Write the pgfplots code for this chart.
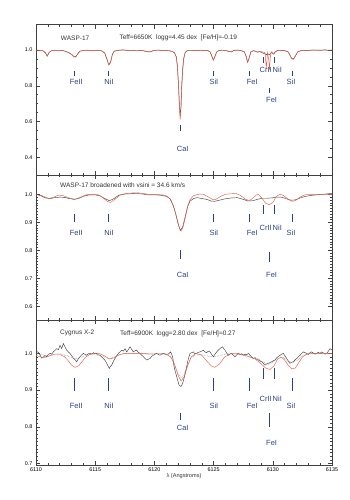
\documentclass[border=0pt]{standalone}
\usepackage{fontspec}
\setmainfont{Liberation Sans}
\usepackage{pgfplots}
\pgfplotsset{compat=1.18}

\definecolor{obs}{RGB}{65,65,65}
\definecolor{mod}{RGB}{228,95,75}
\definecolor{labcol}{RGB}{45,65,135}
\definecolor{dotc}{RGB}{120,125,145}

\pgfplotsset{
  spec/.style={
    scale only axis, width=296pt,
    xmin=6110, xmax=6135,
    xtick={6110,6115,6120,6125,6130,6135},
    minor x tick num=4,
    tick align=inside,
    major tick length=4pt, minor tick length=2pt,
    axis line style={line width=0.5pt, black!75},
    every tick/.style={line width=0.4pt, black!75},
    ticklabel style={font=\fontsize{5.4}{6}\selectfont},
    /pgf/number format/assume math mode=true,
    yticklabel style={/pgf/number format/fixed, /pgf/number format/fixed zerofill, /pgf/number format/precision=1},
    every axis plot/.append style={line width=0.45pt},
  },
}
\tikzset{
  lab/.style={text=labcol, font=\fontsize{7.5}{8}\selectfont, inner sep=0pt},
  ttl/.style={anchor=west, font=\fontsize{6.5}{7}\selectfont, inner sep=0pt, text=black!80},
  mk/.style={labcol, line width=0.45pt},
}

\begin{document}
\begin{tikzpicture}

% ---------------- panel 1: WASP-17
\begin{axis}[spec, name=ax1, height=150.3pt, ymin=0.30, ymax=1.142,
  ytick={0.4,0.6,0.8,1.0}, minor y tick num=3, xticklabels={}]
\coordinate (tl) at (rel axis cs:0,1);
\addplot[obs] coordinates {
(6110.0,1.000) (6110.3,0.997) (6110.6,0.996) (6110.8,0.984) (6110.95,0.967) (6111.1,0.986) (6111.3,0.996) (6111.6,1.000)
(6111.9,0.995) (6112.2,0.999) (6112.5,0.992) (6112.8,0.984) (6113.0,0.976) (6113.2,0.964) (6113.35,0.962) (6113.5,0.977)
(6113.7,0.994) (6114.0,0.997) (6114.3,1.000) (6114.6,0.995) (6114.9,0.999) (6115.2,0.998) (6115.5,0.996) (6115.8,0.984)
(6116.0,0.948) (6116.15,0.918) (6116.3,0.933) (6116.45,0.976) (6116.6,0.994) (6116.9,0.998) (6117.3,1.001) (6117.7,0.998)
(6118.1,0.999) (6118.5,0.995) (6118.9,0.999) (6119.3,0.992) (6119.6,0.989) (6119.9,0.997) (6120.3,1.000) (6120.7,0.997)
(6121.0,0.998) (6121.3,0.995) (6121.5,0.992) (6121.7,0.984) (6121.85,0.962) (6121.95,0.905) (6122.05,0.79) (6122.12,0.68)
(6122.18,0.640) (6122.24,0.675) (6122.3,0.79) (6122.38,0.890) (6122.48,0.955) (6122.6,0.986) (6122.75,0.996) (6123.0,0.998)
(6123.3,0.997) (6123.6,0.997) (6123.9,1.000) (6124.2,0.996) (6124.5,0.998) (6124.7,0.989) (6124.85,0.966) (6124.98,0.944)
(6125.1,0.962) (6125.25,0.988) (6125.4,0.996) (6125.7,1.000) (6126.0,0.997) (6126.3,0.992) (6126.5,0.989) (6126.7,0.998)
(6127.0,1.000) (6127.3,0.997) (6127.6,0.989) (6127.75,0.964) (6127.87,0.931) (6128.0,0.956) (6128.15,0.990) (6128.4,0.997)
(6128.7,0.988) (6128.9,0.991) (6129.1,0.985) (6129.35,0.978) (6129.45,0.974) (6129.55,0.980) (6129.65,0.976) (6129.72,0.973)
(6129.8,0.981) (6129.9,0.989) (6130.0,0.979) (6130.08,0.977) (6130.2,0.989) (6130.4,0.998) (6130.7,0.997) (6131.0,0.997)
(6131.3,0.989) (6131.45,0.971) (6131.6,0.952) (6131.75,0.950) (6131.9,0.966) (6132.1,0.989) (6132.4,0.998) (6132.7,0.998)
(6133.0,0.998) (6133.3,1.000) (6133.6,0.999) (6134.0,0.999) (6134.4,1.001) (6134.7,0.998) (6135.0,1.000)
};
\addplot[mod] coordinates {
(6110.0,1.000) (6110.3,0.998) (6110.6,0.995) (6110.8,0.985) (6110.95,0.965) (6111.1,0.985) (6111.3,0.997) (6111.6,0.999)
(6111.9,0.996) (6112.2,0.998) (6112.5,0.993) (6112.8,0.985) (6113.0,0.975) (6113.2,0.962) (6113.35,0.960) (6113.5,0.975)
(6113.7,0.993) (6114.0,0.998) (6114.3,0.999) (6114.6,0.996) (6114.9,0.998) (6115.2,0.999) (6115.5,0.997) (6115.8,0.985)
(6116.0,0.945) (6116.15,0.915) (6116.3,0.930) (6116.45,0.975) (6116.6,0.993) (6116.9,0.997) (6117.3,1.000) (6117.7,0.999)
(6118.1,0.998) (6118.5,0.996) (6118.9,0.998) (6119.3,0.993) (6119.6,0.990) (6119.9,0.996) (6120.3,0.999) (6120.7,0.998)
(6121.0,0.997) (6121.3,0.996) (6121.5,0.993) (6121.7,0.985) (6121.85,0.960) (6121.95,0.900) (6122.05,0.78) (6122.12,0.66)
(6122.18,0.610) (6122.24,0.66) (6122.3,0.78) (6122.38,0.88) (6122.48,0.95) (6122.6,0.985) (6122.75,0.995) (6123.0,0.997)
(6123.3,0.998) (6123.6,0.996) (6123.9,0.999) (6124.2,0.997) (6124.5,0.998) (6124.7,0.990) (6124.85,0.965) (6124.98,0.942)
(6125.1,0.960) (6125.25,0.988) (6125.4,0.995) (6125.7,0.999) (6126.0,0.998) (6126.3,0.993) (6126.5,0.990) (6126.7,0.997)
(6127.0,0.999) (6127.3,0.998) (6127.6,0.990) (6127.75,0.965) (6127.87,0.930) (6128.0,0.955) (6128.15,0.990) (6128.4,0.996)
(6128.7,0.990) (6128.9,0.992) (6129.1,0.990) (6129.35,0.985) (6129.45,0.895) (6129.55,0.985) (6129.65,0.950) (6129.72,0.890)
(6129.8,0.970) (6129.9,0.990) (6130.0,0.980) (6130.08,0.978) (6130.2,0.990) (6130.4,0.997) (6130.7,0.998) (6131.0,0.996)
(6131.3,0.990) (6131.45,0.970) (6131.6,0.950) (6131.75,0.948) (6131.9,0.965) (6132.1,0.990) (6132.4,0.997) (6132.7,0.999)
(6133.0,0.997) (6133.3,0.999) (6133.6,1.000) (6134.0,0.998) (6134.4,1.000) (6134.7,0.999) (6135.0,1.000)
};
\node[ttl] at (axis cs:6112.09,1.066) {WASP-17};
\node[ttl] at (axis cs:6117.04,1.066) {Teff=6650K\ \ logg=4.45 dex\ \ [Fe/H]=-0.19};
% line identifications
\draw[mk] (axis cs:6113.2,0.884) -- (axis cs:6113.2,0.854);
\draw[mk] (axis cs:6116.1,0.884) -- (axis cs:6116.1,0.854);
\draw[mk] (axis cs:6122.2,0.580) -- (axis cs:6122.2,0.548);
\draw[mk] (axis cs:6125.0,0.884) -- (axis cs:6125.0,0.854);
\draw[mk] (axis cs:6128.0,0.884) -- (axis cs:6128.0,0.854);
\draw[mk] (axis cs:6129.2,0.959) -- (axis cs:6129.2,0.925);
\draw[mk] (axis cs:6129.7,0.790) -- (axis cs:6129.7,0.760);
\draw[mk] (axis cs:6130.1,0.959) -- (axis cs:6130.1,0.925);
\draw[mk] (axis cs:6131.6,0.884) -- (axis cs:6131.6,0.854);
\node[lab] at (axis cs:6113.4,0.821) {FeII};
\node[lab] at (axis cs:6116.17,0.821) {NiI};
\node[lab] at (axis cs:6122.39,0.445) {CaI};
\node[lab] at (axis cs:6125.03,0.821) {SiI};
\node[lab] at (axis cs:6128.27,0.821) {FeI};
\node[lab] at (axis cs:6129.40,0.888) {CrII};
\node[lab] at (axis cs:6130.38,0.888) {NiI};
\node[lab] at (axis cs:6129.9,0.720) {FeI};
\node[lab] at (axis cs:6131.54,0.821) {SiI};
\end{axis}

% ---------------- panel 2: broadened
\begin{axis}[spec, name=ax2, at={(ax1.south west)}, anchor=north west,
  height=145pt, ymin=0.551, ymax=1.069,
  ytick={0.6,0.7,0.8,0.9,1.0}, minor y tick num=9, xticklabels={}]
\addplot[obs] coordinates {
(6110.0,1.000) (6110.4,0.995) (6110.8,0.987) (6111.2,0.985) (6111.6,0.988) (6112.0,0.990) (6112.4,0.989) (6112.8,0.985)
(6113.2,0.982) (6113.6,0.985) (6114.0,0.993) (6114.5,0.998) (6115.0,0.998) (6115.4,0.995) (6115.8,0.985) (6116.2,0.977)
(6116.6,0.985) (6117.0,0.997) (6117.5,1.001) (6118.0,1.002) (6118.5,1.003) (6119.0,1.001) (6119.5,0.998) (6120.0,0.998)
(6120.5,0.997) (6121.0,0.993) (6121.3,0.985) (6121.6,0.960) (6121.8,0.930) (6122.0,0.895) (6122.2,0.871) (6122.4,0.885)
(6122.6,0.920) (6122.8,0.955) (6123.0,0.975) (6123.3,0.985) (6123.6,0.988) (6124.0,0.985) (6124.4,0.982) (6124.8,0.976)
(6125.1,0.975) (6125.5,0.979) (6126.0,0.984) (6126.5,0.987) (6127.0,0.988) (6127.5,0.982) (6127.9,0.976) (6128.3,0.977)
(6128.7,0.982) (6129.1,0.986) (6129.5,0.986) (6129.9,0.987) (6130.3,0.990) (6130.7,0.990) (6131.1,0.985) (6131.5,0.979)
(6131.9,0.980) (6132.3,0.987) (6132.7,0.992) (6133.2,0.996) (6133.7,0.998) (6134.2,1.000) (6134.7,1.002) (6135.0,1.003)
};
\addplot[mod] coordinates {
(6110.0,0.998) (6110.4,0.997) (6110.8,0.990) (6111.1,0.985) (6111.5,0.990) (6111.9,0.997) (6112.3,0.995) (6112.8,0.987)
(6113.3,0.982) (6113.8,0.990) (6114.2,0.998) (6114.7,1.000) (6115.2,0.999) (6115.6,0.990) (6116.0,0.975) (6116.3,0.971)
(6116.7,0.983) (6117.1,0.997) (6117.6,1.003) (6118.2,1.005) (6118.7,1.005) (6119.2,1.002) (6119.7,0.999) (6120.2,0.999)
(6120.7,0.998) (6121.1,0.993) (6121.4,0.980) (6121.7,0.945) (6121.9,0.915) (6122.1,0.880) (6122.25,0.869) (6122.4,0.880)
(6122.6,0.915) (6122.8,0.955) (6123.0,0.980) (6123.3,0.995) (6123.7,1.000) (6124.1,1.001) (6124.5,0.992) (6124.9,0.982)
(6125.2,0.982) (6125.6,0.993) (6126.0,1.000) (6126.5,1.002) (6126.9,1.003) (6127.3,0.995) (6127.7,0.982) (6128.0,0.978)
(6128.3,0.985) (6128.6,0.998) (6128.8,0.999) (6129.1,0.985) (6129.4,0.968) (6129.7,0.963) (6130.0,0.970) (6130.3,0.993)
(6130.6,1.000) (6130.9,0.996) (6131.3,0.982) (6131.6,0.975) (6131.9,0.977) (6132.3,0.990) (6132.7,0.998) (6133.2,1.000)
(6134.0,1.000) (6135.0,1.000)
};
\node[ttl] at (axis cs:6112.03,1.033) {WASP-17 broadened with vsini = 34.6 km/s};
\node[rotate=90, font=\fontsize{5.4}{6}\selectfont, text=black!80] at ([xshift=-18pt]rel axis cs:0,0.402) {Normalized Flux};
\draw[mk] (axis cs:6113.2,0.930) -- (axis cs:6113.2,0.901);
\draw[mk] (axis cs:6116.1,0.930) -- (axis cs:6116.1,0.901);
\draw[mk] (axis cs:6122.2,0.800) -- (axis cs:6122.2,0.770);
\draw[mk] (axis cs:6125.0,0.930) -- (axis cs:6125.0,0.901);
\draw[mk] (axis cs:6128.0,0.930) -- (axis cs:6128.0,0.901);
\draw[mk] (axis cs:6129.2,0.962) -- (axis cs:6129.2,0.930);
\draw[mk] (axis cs:6129.7,0.794) -- (axis cs:6129.7,0.758);
\draw[mk] (axis cs:6130.1,0.962) -- (axis cs:6130.1,0.930);
\draw[mk] (axis cs:6131.6,0.930) -- (axis cs:6131.6,0.901);
\node[lab] at (axis cs:6113.4,0.861) {FeII};
\node[lab] at (axis cs:6116.17,0.861) {NiI};
\node[lab] at (axis cs:6122.39,0.712) {CaI};
\node[lab] at (axis cs:6125.03,0.861) {SiI};
\node[lab] at (axis cs:6128.27,0.861) {FeI};
\node[lab] at (axis cs:6129.40,0.879) {CrII};
\node[lab] at (axis cs:6130.38,0.879) {NiI};
\node[lab] at (axis cs:6129.9,0.712) {FeI};
\node[lab] at (axis cs:6131.54,0.861) {SiI};
\end{axis}

% ---------------- panel 3: Cygnus X-2
\begin{axis}[spec, name=ax3, at={(ax2.south west)}, anchor=north west,
  height=145.3pt, ymin=0.695, ymax=1.091,
  ytick={0.7,0.8,0.9,1.0}, minor y tick num=9,
  xticklabels={6110,6115,6120,6125,6130,6135},
  xlabel={λ (Angstroms)},
  xlabel style={font=\fontsize{5.6}{6}\selectfont, text=black!80, yshift=5pt},
  xticklabel style={yshift=1pt}]
\addplot[dotc, densely dotted, line width=0.5pt] coordinates {
(6110.0,1.000) (6110.5,0.997) (6110.9,0.993) (6111.4,0.997) (6112.0,0.999) (6112.6,0.994) (6113.3,0.985) (6113.8,0.989)
(6114.3,0.996) (6114.9,0.998) (6115.5,0.993) (6116.2,0.985) (6116.8,0.993) (6117.4,0.999) (6118.2,1.000) (6119.0,0.999)
(6119.7,0.997) (6120.4,0.999) (6121.0,0.997) (6121.4,0.988) (6121.7,0.970) (6122.0,0.945) (6122.25,0.932) (6122.5,0.942)
(6122.8,0.968) (6123.1,0.988) (6123.5,0.996) (6124.0,0.997) (6124.6,0.992) (6125.0,0.990) (6125.5,0.994) (6126.1,0.999)
(6126.8,0.999) (6127.5,0.995) (6128.0,0.990) (6128.6,0.988) (6129.1,0.978) (6129.6,0.970) (6130.0,0.975) (6130.5,0.990)
(6130.9,0.989) (6131.3,0.979) (6131.7,0.975) (6132.1,0.982) (6132.6,0.995) (6133.2,1.000) (6134.0,1.000) (6135.0,1.000)
};
\addplot[obs] coordinates {
(6110.06,1.005) (6110.20,1.003) (6110.34,0.996) (6110.48,0.987) (6110.62,0.990) (6110.76,0.994) (6110.90,0.991) (6111.04,0.997)
(6111.18,1.000) (6111.32,0.998) (6111.46,1.004) (6111.60,1.008) (6111.75,1.013) (6111.89,1.010) (6112.03,1.022) (6112.17,1.013)
(6112.31,1.027) (6112.45,1.018) (6112.59,1.009) (6112.73,1.004) (6112.87,1.000) (6113.01,0.994) (6113.15,0.987) (6113.29,0.983)
(6113.43,0.977) (6113.57,0.985) (6113.72,0.991) (6113.86,0.996) (6114.00,1.000) (6114.14,0.997) (6114.28,0.995) (6114.42,0.999)
(6114.56,1.000) (6114.70,0.998) (6114.84,1.002) (6114.98,0.999) (6115.12,1.000) (6115.26,0.996) (6115.41,0.995) (6115.55,0.990)
(6115.69,0.986) (6115.83,0.981) (6115.97,0.973) (6116.08,0.966) (6116.19,0.959) (6116.29,0.965) (6116.39,0.968) (6116.53,0.978)
(6116.67,0.986) (6116.81,0.993) (6116.95,1.000) (6117.09,1.004) (6117.24,1.009) (6117.38,1.006) (6117.52,1.013) (6117.66,1.004)
(6117.80,1.010) (6117.94,1.018) (6118.08,1.011) (6118.22,1.004) (6118.36,1.007) (6118.50,1.009) (6118.64,1.003) (6118.78,1.000)
(6118.93,0.995) (6119.07,0.991) (6119.21,0.986) (6119.35,0.982) (6119.49,0.984) (6119.63,0.986) (6119.77,0.992) (6119.91,0.995)
(6120.05,0.998) (6120.19,1.000) (6120.33,0.997) (6120.47,0.995) (6120.61,0.998) (6120.75,1.000) (6120.96,0.998) (6121.18,0.998)
(6121.37,1.004) (6121.54,0.991) (6121.66,0.964) (6121.77,0.950) (6121.88,0.937) (6121.98,0.925) (6122.08,0.914) (6122.22,0.910)
(6122.30,0.912) (6122.39,0.919) (6122.50,0.932) (6122.61,0.946) (6122.71,0.962) (6122.81,0.977) (6122.91,0.990) (6123.01,1.000)
(6123.15,1.002) (6123.29,1.004) (6123.43,0.999) (6123.57,1.000) (6123.71,1.003) (6123.85,1.004) (6123.99,1.006) (6124.13,1.009)
(6124.27,1.004) (6124.41,1.002) (6124.55,1.006) (6124.70,1.004) (6124.84,0.997) (6124.98,0.991) (6125.12,0.998) (6125.26,1.004)
(6125.40,1.009) (6125.54,1.013) (6125.66,1.016) (6125.77,1.018) (6125.87,1.012) (6125.96,1.009) (6126.10,1.001) (6126.24,0.995)
(6126.38,0.998) (6126.53,1.000) (6126.67,0.995) (6126.81,0.991) (6126.95,0.996) (6127.09,1.000) (6127.23,0.997) (6127.37,0.999)
(6127.51,0.995) (6127.65,0.998) (6127.79,0.996) (6127.93,1.000) (6128.07,0.995) (6128.22,0.990) (6128.36,0.986) (6128.50,0.988)
(6128.64,0.984) (6128.78,0.982) (6128.92,0.979) (6129.06,0.977) (6129.20,0.973) (6129.34,0.968) (6129.48,0.971) (6129.62,0.973)
(6129.76,0.975) (6129.90,0.977) (6130.04,0.980) (6130.19,0.982) (6130.33,0.988) (6130.47,0.992) (6130.61,0.995) (6130.75,0.998)
(6130.89,1.000) (6131.03,0.993) (6131.17,0.986) (6131.31,0.979) (6131.45,0.973) (6131.59,0.976) (6131.73,0.977) (6131.87,0.982)
(6132.02,0.986) (6132.16,0.991) (6132.30,0.995) (6132.44,1.000) (6132.58,1.004) (6132.72,1.002) (6132.86,1.000) (6133.00,0.997)
(6133.14,1.002) (6133.28,1.004) (6133.42,1.001) (6133.56,0.998) (6133.70,1.000) (6133.84,1.003) (6133.99,1.000) (6134.13,1.004)
(6134.27,1.001) (6134.41,0.998) (6134.55,1.000) (6134.69,1.006) (6134.83,1.013) (6135.00,1.009)
};
\addplot[mod] coordinates {
(6110.0,0.995) (6110.3,0.991) (6110.6,0.989) (6110.9,0.990) (6111.2,0.994) (6111.5,0.997) (6112.0,0.997) (6112.4,0.991)
(6112.7,0.981) (6113.0,0.968) (6113.3,0.962) (6113.6,0.966) (6113.9,0.978) (6114.2,0.990) (6114.6,0.998) (6115.0,1.000)
(6115.4,0.999) (6115.8,0.993) (6116.2,0.985) (6116.6,0.988) (6117.0,0.996) (6117.5,1.000) (6118.5,1.000) (6119.5,0.999)
(6120.5,0.999) (6121.0,0.998) (6121.4,0.990) (6121.7,0.970) (6122.0,0.940) (6122.25,0.925) (6122.5,0.935) (6122.8,0.965)
(6123.1,0.990) (6123.5,1.000) (6124.0,0.995) (6124.4,0.980) (6124.8,0.966) (6125.1,0.962) (6125.5,0.971) (6125.9,0.989)
(6126.4,0.999) (6127.0,1.000) (6127.5,0.996) (6128.0,0.991) (6128.5,0.985) (6129.0,0.972) (6129.4,0.960) (6129.75,0.956)
(6130.1,0.966) (6130.4,0.984) (6130.7,0.990) (6131.0,0.982) (6131.3,0.967) (6131.6,0.958) (6131.9,0.960) (6132.2,0.975)
(6132.5,0.990) (6132.9,0.998) (6133.5,1.000) (6135.0,1.000)
};
\node[ttl] at (axis cs:6112.03,1.0545) {Cygnus X-2};
\node[ttl] at (axis cs:6117.09,1.0545) {Teff=6900K\ \ logg=2.80 dex\ \ [Fe/H]=0.27};
\draw[mk] (axis cs:6113.2,0.932) -- (axis cs:6113.2,0.898);
\draw[mk] (axis cs:6116.1,0.932) -- (axis cs:6116.1,0.898);
\draw[mk] (axis cs:6122.2,0.838) -- (axis cs:6122.2,0.818);
\draw[mk] (axis cs:6125.0,0.932) -- (axis cs:6125.0,0.898);
\draw[mk] (axis cs:6128.0,0.932) -- (axis cs:6128.0,0.898);
\draw[mk] (axis cs:6129.2,0.960) -- (axis cs:6129.2,0.930);
\draw[mk] (axis cs:6129.7,0.838) -- (axis cs:6129.7,0.800);
\draw[mk] (axis cs:6130.1,0.960) -- (axis cs:6130.1,0.930);
\draw[mk] (axis cs:6131.6,0.932) -- (axis cs:6131.6,0.898);
\node[lab] at (axis cs:6113.4,0.856) {FeII};
\node[lab] at (axis cs:6116.17,0.856) {NiI};
\node[lab] at (axis cs:6122.39,0.796) {CaI};
\node[lab] at (axis cs:6125.03,0.856) {SiI};
\node[lab] at (axis cs:6128.27,0.856) {FeI};
\node[lab] at (axis cs:6129.40,0.876) {CrII};
\node[lab] at (axis cs:6130.38,0.876) {NiI};
\node[lab] at (axis cs:6129.9,0.755) {FeI};
\node[lab] at (axis cs:6131.54,0.856) {SiI};
\end{axis}

\path ([shift={(-36pt,24.7pt)}]tl) rectangle ([shift={(314pt,-475.3pt)}]tl);
\end{tikzpicture}
\end{document}
